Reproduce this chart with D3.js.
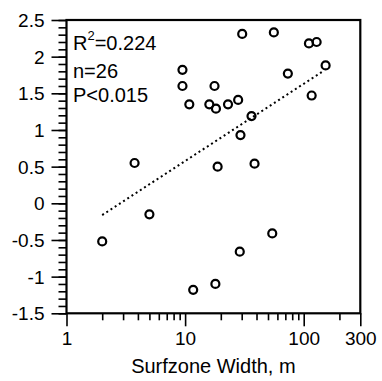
<!DOCTYPE html>
<html>
<head>
<meta charset="utf-8">
<script src="https://cdn.jsdelivr.net/npm/d3@7"></script>
<style>
    body { margin: 0; background: #fff; }
    svg { display: block; }
    text { font-family: "Liberation Sans", Arial, Helvetica, sans-serif; fill: #000; }
</style>
</head>
<body>
<div id="chart"></div>
<script>
// surfzone width (m) vs response
let surfWidth = [2.0, 3.75, 5.0, 9.5, 9.5, 10.85, 11.7, 17.7, 16.0, 18.2, 18.8, 18.0, 23.0,
    28.0, 30.3, 29.3, 28.9, 36.3, 38.5, 56.0, 54.3, 73.5, 110.7, 128.5, 116.7, 153]
let yValue = [-0.52, 0.55, -0.15, 1.82, 1.60, 1.35, -1.18, 1.60, 1.35, 1.29, 0.50, -1.10, 1.35,
    1.41, 2.31, 0.93, -0.66, 1.19, 0.54, 2.33, -0.41, 1.77, 2.18, 2.20, 1.47, 1.88]

// regression line end points
let fitX = [2, 145]
let fitY = [-0.16, 1.80]

let xMajorTicks = [1, 10, 100, 300]
let xMinorTicks = [2, 3, 4, 5, 6, 7, 8, 9, 20, 30, 40, 50, 60, 70, 80, 90, 200]
let yMajorTicks = [-1.5, -1, -0.5, 0, 0.5, 1, 1.5, 2, 2.5]
let stats = ['=0.224', 'n=26', 'P<0.015']
let xTitle = 'Surfzone Width, m'

const W = 382, H = 381
const margin = {left: 66.5, top: 20, right: 21.7, bottom: 67.7}
const w = W - margin.left - margin.right
const h = H - margin.top - margin.bottom

let svg = d3.select('#chart')
    .append('svg')
    .attr('width', W)
    .attr('height', H)

let g = svg.append('g')
    .attr('transform', `translate(${margin.left},${margin.top})`)

let x = d3.scaleLog().domain([1, 300]).range([0, w])
let y = d3.scaleLinear().domain([-1.5, 2.5]).range([h, 0])

let yMinorTicks = d3.range(-15, 26).map(d => d / 10)

// minor ticks first
g.append('g')
    .attr('transform', `translate(0,${h})`)
    .call(d3.axisBottom(x).tickValues(xMinorTicks).tickSize(7).tickSizeOuter(0).tickFormat(''))
g.append('g')
    .call(d3.axisLeft(y).tickValues(yMinorTicks).tickSize(8).tickSizeOuter(0).tickFormat(''))

let xAxis = g.append('g')
    .attr('transform', `translate(0,${h})`)
    .call(d3.axisBottom(x).tickValues(xMajorTicks).tickSize(13).tickSizeOuter(0).tickPadding(5).tickFormat(d => String(d)))
let yAxis = g.append('g')
    .call(d3.axisLeft(y).tickValues(yMajorTicks).tickSize(15).tickSizeOuter(0).tickPadding(7).tickFormat(d => String(d)))

g.selectAll('.domain').remove()
g.selectAll('.tick line').attr('stroke', '#000').attr('stroke-width', 1.6)
xAxis.selectAll('text').style('font-size', '19px').attr('fill', '#000')
yAxis.selectAll('text').style('font-size', '19px').attr('fill', '#000').attr('dy', '0.35em')

// frame
g.append('rect')
    .attr('width', w)
    .attr('height', h)
    .attr('fill', 'none')
    .attr('stroke', '#000')
    .attr('stroke-width', 2.2)

// dotted regression line
g.append('line')
    .attr('x1', x(fitX[0]))
    .attr('y1', y(fitY[0]))
    .attr('x2', x(fitX[1]))
    .attr('y2', y(fitY[1]))
    .attr('stroke', '#000')
    .attr('stroke-width', 2)
    .attr('stroke-dasharray', '2,3')

g.selectAll('.pt')
    .data(surfWidth.map((d, i) => ({x: d, y: yValue[i]})))
    .enter()
    .append('circle')
    .attr('class', 'pt')
    .attr('cx', d => x(d.x))
    .attr('cy', d => y(d.y))
    .attr('r', 4)
    .attr('fill', 'none')
    .attr('stroke', '#000')
    .attr('stroke-width', 2.2)

// stats text
let st = g.append('text')
    .attr('x', 6.5)
    .attr('y', 30)
    .style('font-size', '20px')
st.append('tspan').text('R')
st.append('tspan').attr('dy', -10).style('font-size', '13px').text('2')
st.append('tspan').attr('dy', 10).text(stats[0])

stats.slice(1).forEach((s, i) => {
    g.append('text')
        .attr('x', 6.5)
        .attr('y', 57.5 + i * 24)
        .style('font-size', '20px')
        .text(s)
})

svg.append('text')
    .attr('x', margin.left + w / 2)
    .attr('y', 373)
    .attr('text-anchor', 'middle')
    .style('font-size', '20px')
    .text(xTitle)
</script>
</body>
</html>
